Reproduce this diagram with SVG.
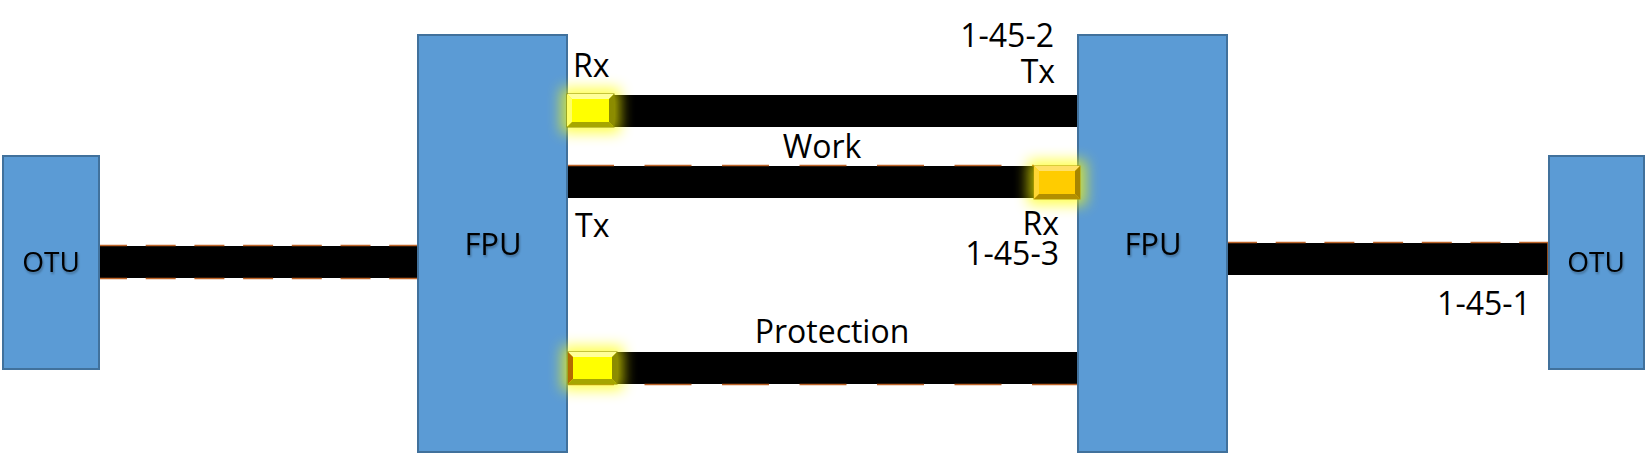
<svg xmlns="http://www.w3.org/2000/svg" width="1650" height="453" viewBox="0 0 1650 453">
<defs>
<style>
.box{fill:#5B9BD5;stroke:#41719C;stroke-width:2}
.bar{fill:#000}
.dashA{stroke:#BE6428;stroke-width:1.5;stroke-dasharray:30 18.7;fill:none}
.dashB{stroke:#BE6428;stroke-width:1.5;stroke-dasharray:47 30.5;fill:none}
.solidO{stroke:#BE6428;stroke-width:1.5;fill:none}
.lbl{font-family:"Open Sans","Noto Sans",sans-serif;font-size:32px;fill:#000}
.nm{font-family:"Open Sans","Noto Sans",sans-serif;fill:#000;filter:url(#tsh)}
.glow{filter:url(#gl);opacity:0.7}
</style>
<filter id="gl" x="-100%" y="-100%" width="300%" height="300%"><feGaussianBlur stdDeviation="7"/></filter>
<filter id="tsh" x="-20%" y="-20%" width="140%" height="140%"><feGaussianBlur in="SourceAlpha" stdDeviation="1"/><feOffset dx="1" dy="1.5" result="b"/><feFlood flood-color="#000" flood-opacity="0.3"/><feComposite in2="b" operator="in"/><feMerge><feMergeNode/><feMergeNode in="SourceGraphic"/></feMerge></filter>
</defs>
<g id="connectors">
<rect class="bar" x="97" y="246" width="321" height="32"/>
<line class="dashA" x1="97" y1="245.5" x2="418" y2="245.5"/>
<line class="dashA" x1="97" y1="278.5" x2="418" y2="278.5"/>
<line class="solidO" x1="418" y1="245.5" x2="418" y2="278.5"/>
<rect class="bar" x="567" y="95" width="511" height="32"/>
<rect class="bar" x="567" y="166" width="467" height="32"/>
<line class="dashB" x1="567" y1="165.5" x2="1034" y2="165.5"/>
<rect class="bar" x="567" y="352" width="511" height="32"/>
<line class="dashB" x1="567" y1="384.5" x2="1079" y2="384.5"/>
<rect class="bar" x="1227" y="243" width="321" height="32"/>
<line class="dashA" x1="1227" y1="242.5" x2="1548" y2="242.5"/>
<line class="solidO" x1="1548" y1="242.5" x2="1548" y2="275"/>
</g>
<g id="otu-left"><rect class="box" x="3" y="156" width="96" height="213"/><text class="nm" x="51" y="272" font-size="28" text-anchor="middle">OTU</text></g>
<g id="fpu-left"><rect class="box" x="418" y="35" width="149" height="417"/><text class="nm" x="493" y="255" font-size="31" text-anchor="middle">FPU</text></g>
<g id="fpu-right"><rect class="box" x="1078" y="35" width="149" height="417"/><text class="nm" x="1153" y="255" font-size="31" text-anchor="middle">FPU</text></g>
<g id="otu-right"><rect class="box" x="1549" y="156" width="95" height="213"/><text class="nm" x="1596" y="272" font-size="28" text-anchor="middle">OTU</text></g>
<g id="port-rx-top">
<rect class="glow" x="561" y="88" width="59" height="45" fill="#FFFF00"/>
<rect x="567" y="94" width="47" height="33" fill="#FFFF00" stroke="#8C8C00" stroke-width="1"/>
<polygon points="567,94 614,94 609,99 572,99" fill="#FFFF99"/>
<polygon points="567,94 572,99 572,122 567,127" fill="#FFFF66"/>
<polygon points="567,127 572,122 609,122 614,127" fill="#A6A600"/>
<polygon points="614,94 609,99 609,122 614,127" fill="#8C8C00"/>
</g>
<g id="port-rx-work">
<rect class="glow" x="1028" y="160" width="58" height="45" fill="#FFFF00"/>
<rect x="1034" y="166" width="46" height="33" fill="#FFCC00" stroke="#B39B00" stroke-width="1"/>
<polygon points="1034,166 1080,166 1075,171 1039,171" fill="#FFE066"/>
<polygon points="1034,166 1039,171 1039,194 1034,199" fill="#FFD633"/>
<polygon points="1034,199 1039,194 1075,194 1080,199" fill="#B38F00"/>
<polygon points="1080,166 1075,171 1075,194 1080,199" fill="#A68500"/>
</g>
<g id="port-protection">
<rect class="glow" x="562" y="346" width="61" height="44" fill="#FFFF00"/>
<rect x="568" y="352" width="49" height="32" fill="#FFFF00" stroke="#8C8C00" stroke-width="1"/>
<polygon points="568,352 617,352 612,357 573,357" fill="#FFFF99"/>
<polygon points="568,352 573,357 573,379 568,384" fill="#B36B00"/>
<polygon points="568,384 573,379 612,379 617,384" fill="#A6A600"/>
<polygon points="617,352 612,357 612,379 617,384" fill="#8C8C00"/>
</g>
<g id="labels">
<text class="lbl" x="573" y="77">Rx</text>
<text class="lbl" x="575" y="237">Tx</text>
<text class="lbl" x="1054" y="47" text-anchor="end">1-45-2</text>
<text class="lbl" x="1055" y="83" text-anchor="end">Tx</text>
<text class="lbl" x="822" y="158" text-anchor="middle">Work</text>
<text class="lbl" x="1059" y="235" text-anchor="end">Rx</text>
<text class="lbl" x="1059" y="265" text-anchor="end">1-45-3</text>
<text class="lbl" x="832" y="343" text-anchor="middle">Protection</text>
<text class="lbl" x="1484" y="315" text-anchor="middle">1-45-1</text>
</g>
</svg>
